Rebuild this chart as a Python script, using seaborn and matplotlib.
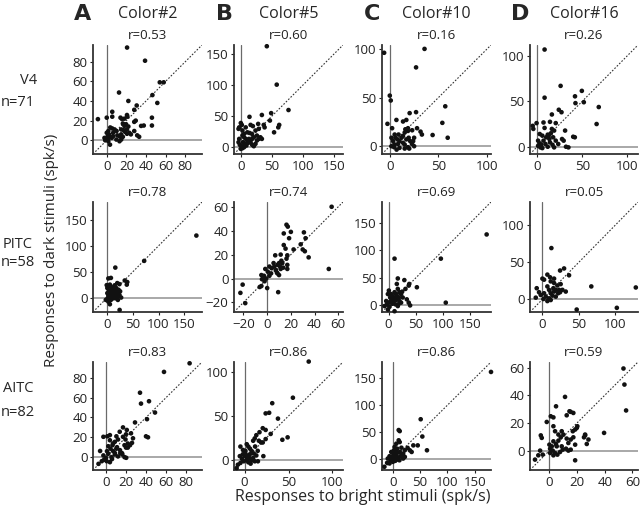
import numpy as np
import pandas as pd
import matplotlib
matplotlib.use("Agg")
import matplotlib.pyplot as plt
import seaborn as sns

# ---- data ----
columns = ["Color#2", "Color#5", "Color#10", "Color#16"]
letters = ["A", "B", "C", "D"]
areas = ["V4", "PITC", "AITC"]
counts = ["n=71", "n=58", "n=82"]

r_v4 = [0.53, 0.60, 0.16, 0.26]
r_pitc = [0.78, 0.74, 0.69, 0.05]
r_aitc = [0.83, 0.86, 0.86, 0.59]

v4_c2_x = [20.7, 39, 54, 58, 12.5, 46.5, 22, 30.5, 51.5, 28, 5.6, 0, 5.6, -9, 14, 15.6, 18, 20.6, 21, 29.5,
           28, 46, 46, 35, 37.7, 16.4, 18, 19.7, 22, 14.7, 17, 20.6, 23, 24.6, 31, 33, 28, 3.6, 5.6, 8,
           10, 1.6, 0, 2.3, 1, 3.3, 5, 6.5, 10.8, 13, 14.7, 9.8, 13, 14.7, 16.4, 1.6, 3.3, 1, -2.3, -1.6,
           18.7, 20.6, 6.5]
v4_c2_y = [94.4, 81, 59, 59, 48.6, 46, 40, 35.4, 38, 31, 29, 23, 24, 21.5, 23, 21.5, 22, 25.7, 24, 20,
           18.7, 23, 15, 14.6, 15, 17, 14.6, 16.3, 14, 11, 10.4, 11, 7.6, 6, 5, 3.5, 9.4, 13, 12, 11,
           9.4, 9.4, 7.6, 6, 4, 3.5, 2.4, 4, 5, 4, 6, 0.7, -1, 0.7, 3.5, -1, -4.5, 0.7, 2.4, 0,
           8.6, 6.6, 7.6]

v4_c5_x = [42, 58, 77, 49, 47, 34, 14, 37, 38.4, 60.5, 62, 53.7, 15.8, 19.5, 28, 29, 0, 1.6, -2.6, -3.7,
           7.9, 10.5, 14, 18, 23.7, 26, 31.6, 29, 2.6, 5.3, 7.9, 10.5, 13, -2.6, -3.7, -1.6, 1.6, 3.7, 6.8, 9,
           12, 15.8, 18.4, 21, 23.7, 2.6, 5.3, 0, 21, 18.4, 34, 26, 2.6, 5.3]
v4_c5_y = [163, 101, 60, 55, 43, 52, 49, 36, 32, 32, 36, 24, 36, 34, 37.6, 29.6, 39, 36, 32, 29.6,
           32, 24, 23, 21.5, 27, 18.8, 16, 13.4, 18.8, 16, 13.4, 10.8, 13.4, 13.4, 8, 3.8, 1.6, 8, 5.4, 2.7,
           7, 8, 3.8, 1.6, 5.4, -1.6, 0, -2.7, 16, 13.4, 13.4, 10.8, 27, 21.5]

v4_c10_x = [-5.8, 35.7, 27, 0, 1, 57, 54, 59.5, 44, -2.4, 2.4, 6.8, 13.6, 17, 20.4, 27, 16, 18.7, 15.3, 18.7,
            23, 28, 31.6, 33, 5, 9, 12, 7.8, 1.7, 3.4, 5, 1.7, 10, 13.6, 15.3, 18.7, 21, 22.8, 25, 19.4,
            10, 15.3, 7, 20, 8.5, 4.4, 5.8, 25, 24, 13.6, 17]
v4_c10_y = [96, 100, 81, 52, 47, 41, 24, 8.7, 11.5, 23, 18.5, 27, 25.4, 27, 34, 35, 17.4, 15.7, 14, 18.5,
            16.4, 18.5, 15, 12, 12, 12, 8.7, 7, 8.7, 5.2, 1.7, 0, 5.2, 3.5, 1.7, -1, 5.2, 2.4, 0, 8.7,
            -1.7, -2.4, -3.5, -2.4, 2.4, -1, 8.7, 8.7, 5.2, 10.4, 7]

v4_c16_x = [8.2, 26, 8.2, 42, 49.6, 42.5, 51.8, 68.4, 66, 24, 27, 16.3, 20.6, -5, -4.3, -0.7, 7, 14.2, 8.2, 16.3,
            18.8, 15.2, 31, 40, 41.8, 27.6, 29.4, 32, 34.7, 2.8, 5.7, 10, 11.7, 1, 2.8, 4.6, 7, 9.2, 11.7, 14.2,
            17, 20.6, 23.4, 18.8, 5.7, 13.5, 17.7, 12.8, 1, 3.5]
v4_c16_y = [107, 67, 54, 55.5, 61.5, 48, 49, 43.7, 25, 40.7, 38, 35.5, 26, 23, 19.6, 26, 26.7, 27.4, 20.7, 19.6,
            17.8, 14.8, 17.8, 11, 10.4, 8.5, 6.7, 0, -0.7, 14, 12.2, 10.4, 13.3, 6.7, 3.7, 2.2, 6.7, 3, 0, 4.8,
            2.2, 6.7, 3, -0.7, -1.5, 8.5, 10.4, 12.2, 1, -0.7]

pitc_c2_x = [174, 72, 15.6, 2, 7, 34, 39, 38, -1.2, 0, 5, 9.4, 14.4, 19.4, 23.7, 3, 8, 13, 17.5, 22,
             0, 2, 5, 9.4, 14.4, 19.4, 23.7, 27, 11, 0.6, 7, 2, -3, 5, 24, 15.6, 20.6, 8, 11, 17.5,
             13, 4.4, 7, 10, 12, 6, 16, 20, 4, 9, 25]
pitc_c2_y = [120, 71, 58, 37, 38, 33, 30, 25, 24, 18.4, 25, 19.7, 23.7, 28, 26, 13, 10.5, 13, 8.5, 15,
             8.5, 4, 5, 2, 4, 2, 5, 0, -1.3, -1.3, -4.6, -8, -4.6, -13, -24, -1.3, -4.6, 4, 8.5, 18.4,
             17, 9, 15, 6, 12, 22, 14, 10, 0, -2, 12]

pitc_c5_x = [54.4, 52, 16.3, 17.4, 20, 14, 18.5, 31, 32.4, 14, 15.5, 22.3, 28.3, 30, 31.8, 35, 6.8, 11.4, 17, 16.3,
             17, 17, 10, 12, 8.7, 6, 1.9, 3.8, -1.6, 0.5, -4.9, -2.7, -0.8, -4.4, 1.9, 3.3, 8.2, 10, 7.3, 11.4,
             13.6, 8.7, -2.2, 0, -4.9, -6.3, 9.3, -20.7, -22.6, -18.5, 5.4, 12.8, 10.9]
pitc_c5_y = [60, 8, 45, 43.4, 39, 37.7, 33.7, 38.6, 33.7, 28, 25, 24.3, 28.6, 24.3, 22.8, 17.7, 19.4, 20, 19.4, 16.6,
             11.4, 8, 12.9, 14.9, 11.4, 10, 10, 8.6, 8, 5.7, 2.9, 2.3, 0, -0.6, 2.3, 4.3, 5, 2.9, 7.1, 8,
             9.1, 4.3, -2.3, -8, -6.3, -7.1, -11.4, -5.1, -12, -20.6, 12.9, 12.9, 10]

pitc_c10_x = [180, 96, 11, 105, 52, 17, 15.2, 29, 38, 37, 17, 11, 6.7, 14, 31, 23, 26, 33.5, 37, 39.6,
              0.6, -1.2, 3, -4.3, 4.9, 9, 14, 19, 20, -7.3, -3, 1.8, -1.2, 11, 12.8, 17, 23, 11, 4.9, 20,
              7, 2, 15, 25, 9, 18]
pitc_c10_y = [129, 85, 85, 5, 33, 49, 39, 46, 39, 36, 30, 24, 17.5, 20.6, 30, 20.6, 14.4, 11, 5, 0,
              27, 20.6, 14.4, 8, 8, 5, 10, 14.4, 8, -1.2, 1.9, -2.5, -7.5, -10.6, 1.9, -1.2, 5, 14.4, 20.6, 24,
              3, 6, 17, 25, 12, 2]

pitc_c16_x = [12.3, 67, 128, 47, 102, 29.7, 24.2, 36.5, 6.8, 0, 2.3, -7.8, -4.6, -9.1, 11.4, 16, 20.5, 25, 27.4, 32,
              24.2, 18.3, 6.8, 9.1, 11.4, 16, 2.3, 4.6, 9.1, 13.7, -2.3, 1.4, 6.8, 11.4, 18.3, 15, 21.5, 22.8, 10.5, 16]
pitc_c16_y = [69, 17.4, 16, -13.7, -11.4, 41.6, 38.8, 32.4, 33.3, 27.9, 26.5, 15, 9.6, 2.3, 24.2, 22, 18.7, 20.5, 12.8, 10.5,
              9.6, 12.8, 17.4, 12.8, 8.2, 10.5, 8.2, 3.7, 1.4, 5, 5.9, 0.5, -2.3, -0.9, 3.7, 15, 8.2, 12.8, 29.7, 27.9]

aitc_c2_x = [83.6, 58, 34, 35, 43, 49, 41, 29, 40, 42, 17, 20.8, 25, 20, 27, 13.7, 10.4, 12, 8.8, 6.5,
             17, 19.5, 21.8, 18.5, 21.8, -2.6, 1.3, 3.9, -5.9, -7.5, -4.2, 7, 10.4, 4.5, 2.3, -2.6, 0, 2.3, -2, 0.7,
             5.5, 8.8, 12, 14.3, 3.9, 18.5, 20.2, 16.3, 20, 24, 26, 7, 3.9, 9, 14, 6, 11, 1, 16]
aitc_c2_y = [94.7, 86, 65, 54, 56.4, 45, 38.3, 35, 21, 20, 30, 27.4, 24, 23, 19, 25.6, 21, 17.8, 15.4, 12,
             20.5, 17.8, 13.7, 12, 9.6, 20.5, 21, 22.2, 6.2, -6.8, -4.1, 6.2, 8.5, 8.5, 11, 1.7, -0.7, 3.4, -2.7, -4.1,
             0, 2.7, 0.7, 4.1, -5.1, 0, -0.7, 2.7, 9.6, 12, 14.4, 13.7, 17, 4, 7, -2, 10, 6, 4]

aitc_c5_x = [73, 55, 31.5, 24, 28, 38, 43, 49, 29.7, 20.7, 24, 17, 13.4, 11.6, 16.3, 18.8, 9.8, 21.4, 15.2, 2.5,
             4.3, 6.2, -4.7, -1.8, 0.7, 3.3, 8, 10.5, 13.4, 9.8, -5.4, -2.9, -1, 2.5, 4.3, 6.9, -7.6, -4.7, -9, 0,
             5.4, 8, 11.6, 24, 20.7, 1, 6, 3, 12, -2, 8, 15]
aitc_c5_y = [112.5, 71, 64.7, 53, 53.7, 47, 22.7, 25.5, 29.4, 36, 34, 31.4, 28, 24.3, 21.6, 19.6, 21.6, 3.9, -2, 17.6,
             14.9, 12.5, 14.9, 11, 7.8, 4.7, 9.8, 7, 4.7, 2, 3.9, 0.8, -2, -0.8, -3.1, -4.7, -5.9, -3.9, -9.8, 3.9,
             2, 0, -2, 23.5, 19.6, 10, 6, 1, 15, 6, -1, 10]

aitc_c10_x = [180, 51, 54, 62.5, 10.6, 12.5, 10.6, 12.5, 37.5, 45.6, 27, 31, 34.4, 3, 8, 15.6, 21.9, -3, 3, 8,
              12.5, 18.8, -6.2, -1.9, 3, 8, 14.4, -9.4, -4.4, 0, 4.4, 9.4, -10.6, -6.2, -15.6, 18.8, 21.9, 1.9, 6.2,
              5, 10, 1, 6, 16, -2, 12]
aitc_c10_y = [161.6, 74, 42, 16.5, 54, 52, 35, 31.7, 25.6, 25.6, 21, 16.5, 13.4, 22.6, 19.5, 21.3, 16.5, 13.4, 10.4, 11.6,
              13.4, 10.4, 5.5, 4.3, 1.2, 4.3, 5.5, 1.2, -3, -4.9, -3, -0.6, -6.7, -7.9, -14, 1.2, 4.3, 16.5, 28.7,
              7, 2, 9, 15, 8, 0, -2]

aitc_c16_x = [53.5, 54.2, 55.4, 39.5, 11.3, 4.8, 14.5, 15.4, 17.3, 1, 2.9, 12.5, 20.2, 19.8, 18.6, 16.9, -1.9, -6.2, -5.5, 25.8,
              25, 27, 25.8, 28.2, 18.6, -10.4, -8, -4.8, -6.7, 0, 1.7, 2.9, 4.8, 6.5, 8.2, 10.1, 12.5, 13.7, 15.4, 17.3,
              18.6, 0.5, 2.4, 4.1, 5.8, 7.7, 9.6, 12, 13.7, 15.4, 0.5, 2.9, 5.3, 8.9, 4.1, 6.5, 8.9, 2.9]
aitc_c16_y = [59.3, 47.7, 29, 12.8, 38.8, 32, 28.4, 28, 27.2, 24.8, 24, 25.5, 17.6, 16.4, 15.2, 14, 20.7, 11, 9.2, 11.6,
              9.6, 4.8, 11, 8, -7, -6.5, -3.4, -2.9, 0, 4.3, 3.1, 6.7, 4.8, 7.2, 9.6, 11.6, 8.7, 5.5, 8, 9.6,
              4.3, 1.4, 0, -1.7, -2.9, -1, 0.7, 1.4, 0, 0.7, -1.7, -3.4, 3.1, 3.1, 14, 11.6, 14, 17.6]

# axis ticks per panel (row by row)
ticks = [
    [[0, 20, 40, 60, 80], [0, 50, 100, 150], [0, 50, 100], [0, 50, 100]],
    [[0, 50, 100, 150], [-20, 0, 20, 40, 60], [0, 50, 100, 150], [0, 50, 100]],
    [[0, 20, 40, 60, 80], [0, 50, 100], [0, 50, 100, 150], [0, 20, 40, 60]],
]
limits = [
    [(-14, 97), (-11, 165), (-8, 104), (-8, 112)],
    [(-28, 185), (-28, 64), (-12, 188), (-17, 131)],
    [(-13, 96), (-12, 112), (-20, 180), (-14, 64)],
]

panels = [
    [(v4_c2_x, v4_c2_y), (v4_c5_x, v4_c5_y), (v4_c10_x, v4_c10_y), (v4_c16_x, v4_c16_y)],
    [(pitc_c2_x, pitc_c2_y), (pitc_c5_x, pitc_c5_y), (pitc_c10_x, pitc_c10_y), (pitc_c16_x, pitc_c16_y)],
    [(aitc_c2_x, aitc_c2_y), (aitc_c5_x, aitc_c5_y), (aitc_c10_x, aitc_c10_y), (aitc_c16_x, aitc_c16_y)],
]
r_values = [r_v4, r_pitc, r_aitc]

sns.set_style("ticks")
plt.rcParams["font.family"] = ["Open Sans", "DejaVu Sans"]

W, H = 640, 512
fig = plt.figure(figsize=(6.4, 5.12), dpi=100)


def fx(x):
    return x / W


def fy(y):
    return 1 - y / H


col_px = [(93, 202), (234, 343), (382, 491), (530, 638)]
row_px = [(45, 154), (202, 312), (362, 470)]

for i, (y0, y1) in enumerate(row_px):
    for j, (x0, x1) in enumerate(col_px):
        ax = fig.add_axes([fx(x0), fy(y1), (x1 - x0) / W, (y1 - y0) / H])
        px, py = panels[i][j]
        df = pd.DataFrame({"x": px, "y": py})
        lo, hi = limits[i][j]
        ax.axvline(0, color="#6a6a6a", lw=0.9, zorder=1)
        ax.axhline(0, color="#9a9a9a", lw=1.2, zorder=1)
        ax.plot([lo, hi], [lo, hi], color="#333333", lw=0.8, ls=(0, (1.5, 1.5)), zorder=2)
        sns.scatterplot(data=df, x="x", y="y", ax=ax, color="#111111", s=11,
                        edgecolor="none", linewidth=0, zorder=3, clip_on=False)
        ax.set_xlim(lo, hi)
        ax.set_ylim(lo, hi)
        ax.set_xticks(ticks[i][j])
        ax.set_yticks(ticks[i][j])
        ax.set_xlabel("")
        ax.set_ylabel("")
        sns.despine(ax=ax)
        for s in ["left", "bottom"]:
            ax.spines[s].set_color("#333333")
            ax.spines[s].set_linewidth(1.3)
        ax.tick_params(length=2, width=0.8, pad=2, labelsize=9.5, colors="#222222")
        ax.set_title("r=%.2f" % r_values[i][j], fontsize=9.5, pad=4, color="#222222")

for j, (x0, x1) in enumerate(col_px):
    fig.text(fx(x0 - 10), fy(14), letters[j], fontsize=16, fontweight="heavy",
             family="DejaVu Sans", ha="center", va="center")
    fig.text(fx((x0 + x1) / 2), fy(14), columns[j], fontsize=11.5, ha="center", va="center")

label_pos = [((29, 80), (18, 103)), ((18, 245), (18, 263)), ((18, 389), (18, 412))]
for i in range(3):
    (ax_, ay_), (nx_, ny_) = label_pos[i]
    fig.text(fx(ax_), fy(ay_), areas[i], fontsize=10.5, ha="center", va="center")
    fig.text(fx(nx_), fy(ny_), counts[i], fontsize=10.5, ha="center", va="center")

fig.text(fx(52), fy(250), "Responses to dark stimuli (spk/s)", fontsize=11,
         rotation=90, ha="center", va="center")
fig.text(fx(363), fy(497), "Responses to bright stimuli (spk/s)", fontsize=11.5,
         ha="center", va="center")

fig.savefig("out.png", dpi=100)
